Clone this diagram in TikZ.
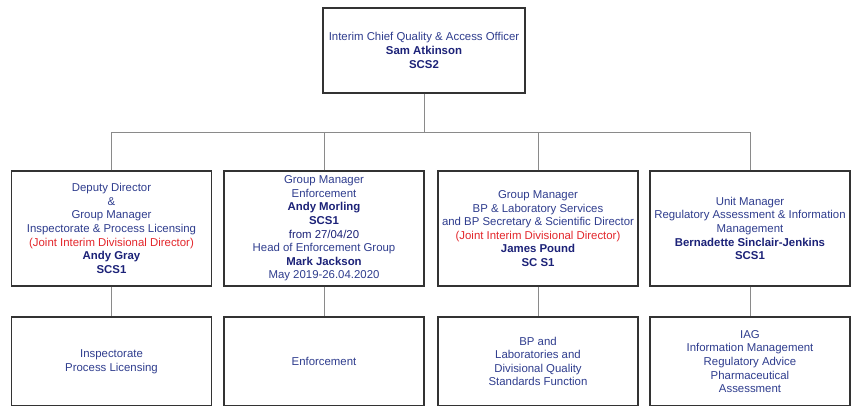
\documentclass[tikz,border=0pt]{standalone}
\usepackage{fontspec}
\setmainfont{Liberation Sans}
\usetikzlibrary{shadows}

\definecolor{textblue}{HTML}{2F3D8E}
\definecolor{namenavy}{HTML}{1C2278}
\definecolor{rolered}{HTML}{E3262B}
\definecolor{linkgray}{HTML}{8A8A8A}
\definecolor{boxedge}{HTML}{333333}

\newcommand\pname[1]{{\bfseries\color{namenavy}#1}}
\newcommand\jointrole[1]{{\color{rolered}#1}}

\begin{document}
\begin{tikzpicture}[x=1pt,y=-1pt,
  orgbox/.style={draw=boxedge, line width=1.2pt, fill=white,
    drop shadow={shadow xshift=0.9pt, shadow yshift=-0.9pt, fill=black!55, opacity=0.6},
    minimum width=200pt, align=center, text=textblue, inner sep=1pt,
    font=\fontsize{11.4}{13.6}\selectfont},
  topbox/.style={orgbox, minimum width=202pt, minimum height=85pt},
  headbox/.style={orgbox, minimum height=115pt},
  unitbox/.style={orgbox, minimum height=89pt},
  link/.style={draw=linkgray, line width=1pt}]

\useasboundingbox (0,0) rectangle (852,405);
\clip (0,0) rectangle (852,405);

% Chief officer
\node[topbox] (chief) at (424,50.5)
  {Interim Chief Quality \& Access Officer\\\pname{Sam Atkinson}\\\pname{SCS2}};

% Heads of group
\node[headbox] (dd) at (111.5,228.5)
  {Deputy Director\\\&\\Group Manager\\Inspectorate \& Process Licensing\\
   \jointrole{(Joint Interim Divisional Director)}\\\pname{Andy Gray}\\\pname{SCS1}};
\node[headbox] (enf) at (324,228.5)
  {Group Manager\\Enforcement\\\pname{Andy Morling}\\\pname{SCS1}\\
   {\color{namenavy}from 27/04/20}\\Head of Enforcement Group\\\pname{Mark Jackson}\\May 2019-26.04.2020};
\node[headbox] (bp) at (538,228.5)
  {Group Manager\\BP \& Laboratory Services\\and BP Secretary \& Scientific Director\\
   \jointrole{(Joint Interim Divisional Director)}\\\pname{James Pound}\\\pname{SC S1}};
\node[headbox] (ram) at (750,228.5)
  {Unit Manager\\Regulatory Assessment \& Information\\Management\\
   \pname{Bernadette Sinclair-Jenkins}\\\pname{SCS1}};

% Units
\node[unitbox] (ipl) at (111.5,361.5) {Inspectorate\\Process Licensing};
\node[unitbox] (enfu) at (324,361.5) {Enforcement};
\node[unitbox] (bpu) at (538,361.5) {BP and\\Laboratories and\\Divisional Quality\\Standards Function};
\node[unitbox] (iag) at (750,361.5) {IAG\\Information Management\\Regulatory Advice\\Pharmaceutical\\Assessment};

% Reporting lines
\coordinate (bus) at (424,132);
\draw[link] (chief.south) -- (bus);
\draw[link] (dd.north) |- (bus);
\draw[link] (ram.north) |- (bus);
\draw[link] (enf.north) -- (enf.north |- bus);
\draw[link] (bp.north) -- (bp.north |- bus);

\draw[link] (dd.south) -- (ipl.north);
\draw[link] (enf.south) -- (enfu.north);
\draw[link] (bp.south) -- (bpu.north);
\draw[link] (ram.south) -- (iag.north);
\end{tikzpicture}
\end{document}
